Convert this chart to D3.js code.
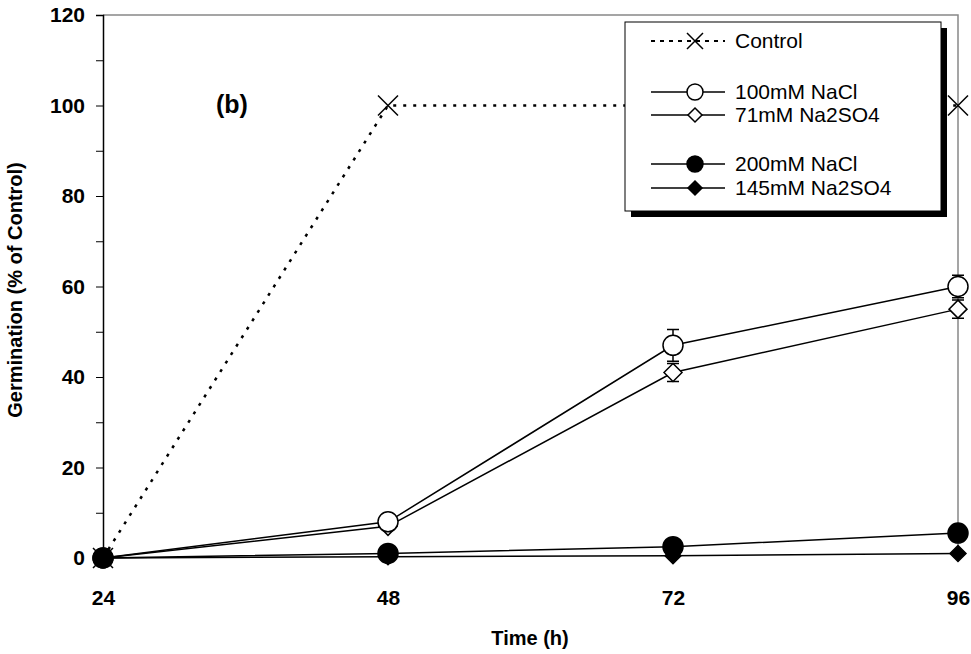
<!DOCTYPE html>
<html><head><meta charset="utf-8">
<script src="https://cdn.jsdelivr.net/npm/d3@7"></script>
<style>body{margin:0;background:#fff}text{font-family:Arial,"Liberation Sans",sans-serif}</style>
</head><body><svg width="971" height="654"></svg>
<script>
const times = [24, 48, 72, 96];
const control = [0, 100, 100, 100];
const nacl100 = [0, 8, 47, 60];
const nacl100Err = [0, 0.5, 3.5, 2.5];
const na2so471 = [0, 7, 41, 55];
const na2so471Err = [0, 0.5, 2, 2];
const nacl200 = [0, 1, 2.5, 5.5];
const na2so4145 = [0, 0.3, 0.5, 1];

const svg = d3.select("svg");
const x = d3.scaleLinear().domain([24, 96]).range([103, 958]);
const y = d3.scaleLinear().domain([0, 120]).range([558, 15]);

svg.append("path").attr("d", `M${x(24)},${y(120)}H${x(96)}V${y(0)}`)
  .attr("fill", "none").attr("stroke", "#888").attr("stroke-width", 1.5);

const yAxis = svg.append("g").attr("transform", `translate(${x(24)},0)`)
  .call(d3.axisLeft(y).tickValues(d3.range(0, 121, 10)).tickSize(7).tickFormat(d => d % 20 ? "" : d));
yAxis.select(".domain").attr("stroke-width", 1.5);
yAxis.selectAll("text").style("font-size", "21px").style("font-weight", "bold").attr("dx", -8);

const xAxis = svg.append("g").attr("transform", `translate(0,${y(0)})`)
  .call(d3.axisBottom(x).tickValues(times).tickSize(0).tickPadding(32));
xAxis.select(".domain").remove();
xAxis.selectAll("text").style("font-size", "21px").style("font-weight", "bold");

svg.append("text").attr("x", 530).attr("y", 645).attr("text-anchor", "middle")
  .style("font-size", "20px").style("font-weight", "bold").text("Time (h)");
svg.append("text").attr("transform", "translate(22,290) rotate(-90)").attr("text-anchor", "middle")
  .style("font-size", "20px").style("font-weight", "bold").text("Germination (% of Control)");
svg.append("text").attr("x", 216).attr("y", 113).style("font-size", "25px").style("font-weight", "bold").text("(b)");

const line = d3.line().x((d, i) => x(times[i])).y(d => y(d));
const g = svg.append("g");

function diamond(r) { return `M0,${-r}L${r},0L0,${r}L${-r},0Z`; }
function circle(r) { return `M${r},0A${r},${r},0,1,1,${-r},0A${r},${r},0,1,1,${r},0`; }
function cross(cx, cy, r) {
  return `M${cx - r},${cy - r}L${cx + r},${cy + r}M${cx - r},${cy + r}L${cx + r},${cy - r}`;
}

function errs(vals, e) {
  vals.forEach((v, i) => {
    if (!e[i] || e[i] < 1) return;
    const cx = x(times[i]);
    g.append("path").attr("d", `M${cx},${y(v - e[i])}V${y(v + e[i])}M${cx - 6},${y(v + e[i])}H${cx + 6}M${cx - 6},${y(v - e[i])}H${cx + 6}`)
      .attr("stroke", "#000").attr("stroke-width", 1.5).attr("fill", "none");
  });
}
errs(nacl100, nacl100Err);
errs(na2so471, na2so471Err);

g.append("path").attr("d", line(control)).attr("fill", "none").attr("stroke", "#000")
  .attr("stroke-width", 2.5).attr("stroke-dasharray", "3,7");
control.forEach((v, i) => {
  g.append("path").attr("d", cross(x(times[i]), y(v), 10)).attr("stroke", "#000").attr("stroke-width", 1.5);
});

const series = [
  { v: na2so471, shape: diamond(9), fill: "#fff" },
  { v: nacl100, shape: circle(10), fill: "#fff" },
  { v: na2so4145, shape: diamond(8), fill: "#000" },
  { v: nacl200, shape: circle(10), fill: "#000" }
];
series.forEach(s => {
  g.append("path").attr("d", line(s.v)).attr("fill", "none").attr("stroke", "#000").attr("stroke-width", 1.5);
});
series.forEach(s => {
  s.v.forEach((v, i) => {
    g.append("path").attr("d", s.shape)
      .attr("transform", `translate(${x(times[i])},${y(v)})`)
      .attr("fill", s.fill).attr("stroke", "#000").attr("stroke-width", 1.5);
  });
});

// legend
const lg = svg.append("g");
lg.append("rect").attr("x", 631).attr("y", 28).attr("width", 316).attr("height", 189).attr("fill", "#000");
lg.append("rect").attr("x", 625).attr("y", 22).attr("width", 316).attr("height", 189)
  .attr("fill", "#fff").attr("stroke", "#000").attr("stroke-width", 1);
const leg = [
  { name: "Control", y: 41, type: "x" },
  { name: "100mM NaCl", y: 92, shape: circle(8), fill: "#fff" },
  { name: "71mM Na2SO4", y: 115, shape: diamond(7), fill: "#fff" },
  { name: "200mM NaCl", y: 164, shape: circle(8), fill: "#000" },
  { name: "145mM Na2SO4", y: 188, shape: diamond(7), fill: "#000" }
];
leg.forEach(d => {
  if (d.type === "x") {
    lg.append("path").attr("d", `M651,${d.y}H725`).attr("stroke", "#000").attr("stroke-width", 2).attr("stroke-dasharray", "4,5");
    lg.append("path").attr("d", cross(695, d.y, 8)).attr("stroke", "#000").attr("stroke-width", 1.5);
  } else {
    lg.append("path").attr("d", `M651,${d.y}H725`).attr("stroke", "#000").attr("stroke-width", 1.5);
    lg.append("path").attr("d", d.shape).attr("transform", `translate(695,${d.y})`)
      .attr("fill", d.fill).attr("stroke", "#000").attr("stroke-width", 1.5);
  }
  lg.append("text").attr("x", 735).attr("y", d.y + 7).style("font-size", "21px").text(d.name);
});
</script></body></html>
